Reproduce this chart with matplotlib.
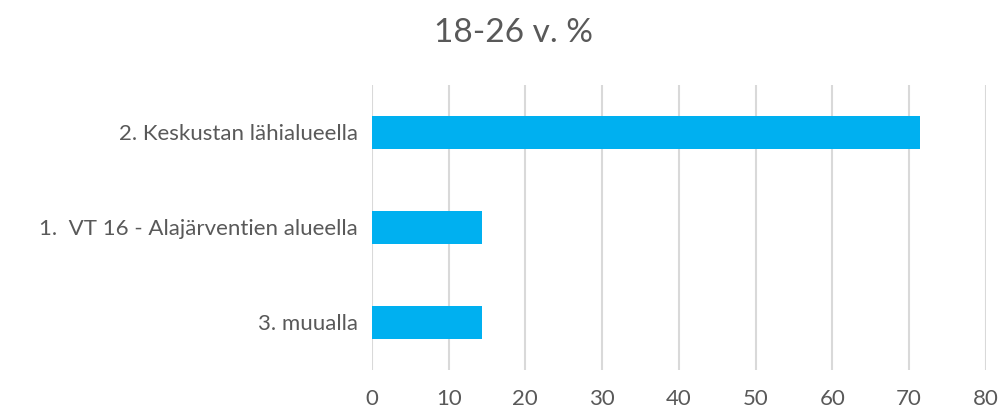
import matplotlib
matplotlib.use("Agg")
import matplotlib.pyplot as plt

categories = ["2. Keskustan lähialueella", "1.  VT 16 - Alajärventien alueella", "3. muualla"]
values = [71.4, 14.3, 14.3]
xticks = [0, 10, 20, 30, 40, 50, 60, 70, 80]
title = "18-26 v. %"

plt.rcParams['font.family'] = ['Lato', 'DejaVu Sans']

fig = plt.figure(figsize=(10.05, 4.12), dpi=100)
ax = fig.add_axes([0.370, 0.102, 0.611, 0.692])

ypos = list(range(len(categories)))
ax.barh(ypos, values, height=0.35, color="#00b0f0", zorder=3)
ax.set_ylim(len(categories) - 0.5, -0.5)
ax.set_xlim(0, 80)
ax.set_xticks(xticks)
ax.set_yticks(ypos)
ax.set_yticklabels(categories)
ax.grid(axis="x", color="#d9d9d9", linewidth=1.5, zorder=0)
for s in ax.spines.values():
    s.set_visible(False)
ax.tick_params(axis="y", length=0, pad=10, labelsize=16, labelcolor="#595959")
ax.tick_params(axis="x", length=0, pad=14, labelsize=16, labelcolor="#595959")

fig.text(0.511, 0.92, title, ha="center", va="center", fontsize=24, color="#595959")

fig.savefig("out.png", dpi=100)
